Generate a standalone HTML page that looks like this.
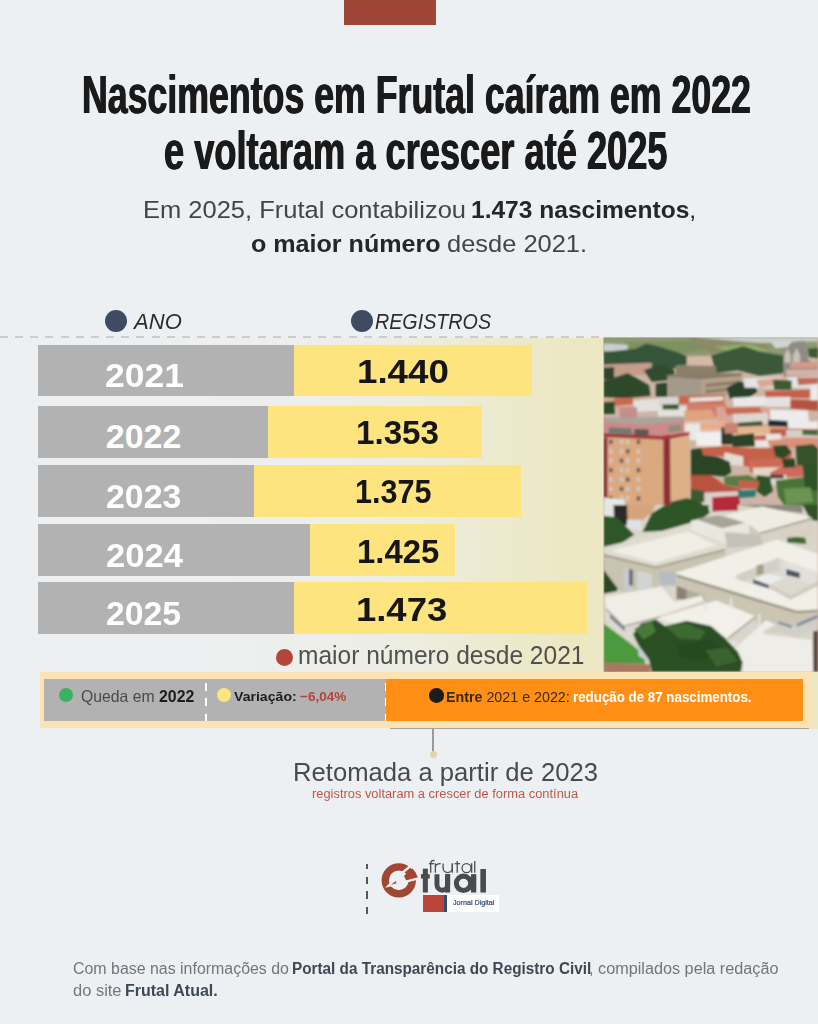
<!DOCTYPE html>
<html lang="pt-BR"><head><meta charset="utf-8"><title>Nascimentos em Frutal</title>
<style>
html,body{margin:0;padding:0;}
body{background:#edf0f2;font-family:"Liberation Sans",sans-serif;}
#page{position:relative;width:818px;height:1024px;overflow:hidden;background:#edf0f2;}
.t{position:absolute;white-space:nowrap;line-height:1;transform-origin:0 0;display:inline-block;}
.b{position:absolute;}
.dot{position:absolute;border-radius:50%;}

</style></head>
<body>
<div id="page">
<!-- top accent -->
<div class="b" style="left:344.3px;top:0;width:91.7px;height:25.2px;background:#9d4636"></div>
<!-- gradient panel -->
<div class="b" style="left:0;top:337.5px;width:818px;height:391px;background:linear-gradient(90deg,rgba(236,232,196,0) 0px,rgba(236,232,196,0) 150px,rgba(236,232,196,.12) 300px,rgba(236,232,196,.4) 420px,rgba(236,232,196,.78) 500px,#ece8c4 565px,#ece8c4 818px)"></div>
<!-- dashed line -->
<div class="b" style="left:0;top:335.9px;width:603.5px;height:1.8px;background:repeating-linear-gradient(90deg,#cbcdcd 0,#cbcdcd 8px,transparent 8px,transparent 15.155px)"></div>
<!-- header dots -->
<div class="dot" style="left:104.5px;top:309.9px;width:22px;height:22px;background:#3e4b62"></div>
<div class="dot" style="left:351.3px;top:309.9px;width:22px;height:22px;background:#3e4b62"></div>
<!-- bars -->
<div class="b" style="left:37.8px;top:344.7px;width:494.5px;height:51.7px;background:#fde47f"></div>
<div class="b" style="left:37.8px;top:344.7px;width:256.5px;height:51.7px;background:#b2b2b2"></div>
<div class="b" style="left:37.8px;top:405.9px;width:444.2px;height:51.7px;background:#fde47f"></div>
<div class="b" style="left:37.8px;top:405.9px;width:230.5px;height:51.7px;background:#b2b2b2"></div>
<div class="b" style="left:37.8px;top:465.3px;width:483.5px;height:51.7px;background:#fde47f"></div>
<div class="b" style="left:37.8px;top:465.3px;width:216.5px;height:51.7px;background:#b2b2b2"></div>
<div class="b" style="left:37.8px;top:524.4px;width:417.5px;height:51.7px;background:#fde47f"></div>
<div class="b" style="left:37.8px;top:524.4px;width:272.2px;height:51.7px;background:#b2b2b2"></div>
<div class="b" style="left:37.8px;top:582.3px;width:549.2px;height:51.7px;background:#fde47f"></div>
<div class="b" style="left:37.8px;top:582.3px;width:256.5px;height:51.7px;background:#b2b2b2"></div>
<!-- red dot -->
<div class="dot" style="left:275.7px;top:648.5px;width:17.6px;height:17.6px;background:#b5443b"></div>
<!-- PHOTO -->
<svg class="b" style="left:598px;top:330px" width="220" height="350" viewBox="0 0 818 1301.4" preserveAspectRatio="none">
<defs>
<clipPath id="pc"><rect x="20.8" y="27.9" width="800" height="1243"/></clipPath>
<filter id="soft" x="-5%" y="-5%" width="110%" height="110%"><feGaussianBlur stdDeviation="4"/></filter>
<pattern id="win" x="36" y="410" width="44" height="47" patternUnits="userSpaceOnUse"><rect x="8" y="6" width="14" height="13" fill="#9a8468"/></pattern>
</defs>
<g clip-path="url(#pc)">
<rect x="0" y="0" width="818" height="1302" fill="#cdb4a6"/>
<g filter="url(#soft)">
<!-- ===== TOP HALF ===== -->
<!-- hazy fields -->
<rect x="0" y="20" width="818" height="80" fill="#8e9873"/>
<polygon points="100,45 350,40 420,70 300,90 110,75" fill="#7f9161"/>
<polygon points="330,30 600,30 640,70 420,85" fill="#8c8a68"/>
<polygon points="430,62 560,52 640,75 520,90" fill="#8fae68"/>
<polygon points="21,50 110,55 112,80 21,78" fill="#c9cfd0"/>
<polygon points="360,27 818,27 818,42 600,48 480,38" fill="#c8cdc6"/>
<polygon points="640,42 720,38 730,60 660,68" fill="#d2d6d4"/>
<!-- tree band -->
<polygon points="21,82 140,70 180,50 230,62 300,85 335,100 330,128 260,150 180,135 90,140 21,130" fill="#36543a"/>
<polygon points="420,95 470,80 540,60 600,80 690,95 690,160 600,170 520,150 440,160" fill="#3a5838"/>
<polygon points="780,70 818,66 818,105 785,100" fill="#3a5a30"/>
<!-- town mix rows -->
<polygon points="21,128 200,122 200,165 21,175" fill="#c59b8a"/>
<polygon points="330,98 420,96 425,128 330,130" fill="#d5b8a5"/>
<polygon points="290,130 440,135 440,165 290,165" fill="#8c7f6a"/>
<polygon points="21,140 60,138 60,185 21,185" fill="#2f452b"/>
<polygon points="21,190 110,160 190,205 195,245 100,255 21,250" fill="#2f4a2c"/>
<polygon points="170,150 230,128 285,150 280,185 200,192" fill="#314c2e"/>
<polygon points="215,200 258,195 258,250 215,248" fill="#2d4529"/>
<!-- grey building -->
<polygon points="258,170 385,180 390,250 262,258" fill="#a49a8b"/>
<polygon points="385,180 535,166 538,238 390,250" fill="#b3a28b"/>
<polygon points="258,166 385,160 535,160 535,170 385,183 258,174" fill="#8a7c6a"/>
<polygon points="400,200 530,188 530,200 400,213" fill="#8d7c68"/>
<polygon points="400,222 530,210 530,222 400,236" fill="#8d7c68"/>
<!-- tree right of grey building -->
<polygon points="478,215 520,192 580,195 592,230 560,252 490,255" fill="#28412a"/>
<!-- church -->
<polygon points="690,95 705,62 720,45 770,40 778,100 790,120 818,120 818,178 690,178" fill="#8f8b86"/>
<polygon points="693,95 705,68 717,95 717,122 693,122" fill="#c9c0b6"/>
<polygon points="725,95 738,66 752,95 752,122 725,122" fill="#c9c0b6"/>
<polygon points="715,122 818,118 818,140 715,142" fill="#d59a88"/>
<polygon points="700,148 818,146 818,168 700,170" fill="#d8b1a6"/>
<!-- right whites/roofs -->
<polygon points="540,180 818,170 818,215 545,215" fill="#e4e4e4"/>
<polygon points="590,186 700,176 720,200 600,214" fill="#d9a893"/>
<polygon points="740,178 818,176 818,200 745,205" fill="#c66852"/>
<polygon points="650,185 720,188 720,222 655,222" fill="#3a5a36"/>
<polygon points="620,228 790,222 790,252 625,252" fill="#c4604b"/>
<polygon points="790,215 818,212 818,262 790,262" fill="#ececec"/>
<polygon points="500,252 620,246 625,282 505,285" fill="#e9e9e9"/>
<polygon points="620,250 715,248 718,285 622,286" fill="#e2e2e0"/>
<polygon points="715,258 818,262 818,300 715,292" fill="#b5533f"/>
<!-- left of centre roofs row -->
<polygon points="21,255 130,252 220,250 220,282 130,300 21,290" fill="#d6a894"/>
<polygon points="60,255 130,252 132,275 62,282" fill="#c9674f"/>
<polygon points="130,262 225,255 228,300 135,305" fill="#e3e1dc"/>
<polygon points="225,250 300,248 300,275 225,278" fill="#d6d6d2"/>
<polygon points="21,268 62,266 62,312 21,312" fill="#2f4a2a"/>
<polygon points="300,245 470,240 470,272 300,276" fill="#c8664e"/>
<polygon points="340,252 465,246 465,262 340,268" fill="#e5e0da"/>
<polygon points="222,280 330,284 332,322 222,322" fill="#e2e2dc"/>
<polygon points="240,278 300,276 300,296 240,296" fill="#3c5a30"/>
<polygon points="330,270 470,272 500,300 420,330 330,325" fill="#d08068"/>
<polygon points="320,300 420,295 440,330 325,340" fill="#e0a37f"/>
<polygon points="440,285 640,285 640,340 445,345" fill="#d9a594"/>
<polygon points="470,290 600,286 610,310 480,316" fill="#c96d55"/>
<polygon points="500,312 630,308 635,345 505,350" fill="#ddd6d0"/>
<!-- white building with dark windows -->
<polygon points="640,296 780,300 785,340 818,338 818,372 640,372" fill="#ececec"/>
<polygon points="633,334 705,338 705,366 633,362" fill="#272c38"/>
<!-- middle band -->
<polygon points="320,340 470,338 520,352 520,395 320,398" fill="#e2c4b2"/>
<polygon points="378,345 470,340 470,368 378,372" fill="#e8ad8c"/>
<polygon points="520,355 700,360 705,392 520,392" fill="#e5b58f"/>
<polygon points="640,366 818,368 818,396 640,392" fill="#c25f4b"/>
<polygon points="520,345 610,338 612,356 520,360" fill="#3a5a32"/>
<polygon points="320,350 380,348 380,410 345,410 320,400" fill="#e8e8e6"/>
<polygon points="365,380 458,378 460,432 365,430" fill="#f0f0f0"/>
<polygon points="458,362 500,362 500,425 458,425" fill="#2d3a2c"/>
<polygon points="470,345 520,345 520,385 470,385" fill="#c88470"/>
<polygon points="498,392 580,384 588,430 500,436" fill="#2b4527"/>
<polygon points="580,388 680,386 680,436 585,436" fill="#e8e6e4"/>
<polygon points="580,392 625,390 625,410 580,410" fill="#c7624d"/>
<polygon points="630,410 760,400 818,402 818,440 640,440" fill="#d9917b"/>
<polygon points="700,372 818,372 818,400 700,398" fill="#d8d0c4"/>
<polygon points="760,372 818,372 818,392 760,390" fill="#4a6a3c"/>
<!-- red roofs lower -->
<polygon points="385,440 470,430 560,440 650,438 720,456 715,490 640,520 540,505 470,470 385,465" fill="#c5604a"/>
<polygon points="470,455 540,470 540,505 480,500 470,478" fill="#e4dcd4"/>
<polygon points="560,482 680,478 690,520 565,530" fill="#cc6a54"/>
<polygon points="575,512 680,510 680,535 580,540" fill="#e6d6c4"/>
<polygon points="690,505 780,500 780,545 640,548 640,530" fill="#cf6a5c"/>
<polygon points="610,540 700,538 700,575 612,575" fill="#e2ddd4"/>
<polygon points="640,538 690,538 690,552 640,552" fill="#4a4038"/>
<!-- trees lower center -->
<polygon points="345,445 385,440 390,465 440,470 490,490 495,530 470,545 420,540 400,560 345,555" fill="#2b4525"/>
<polygon points="650,430 700,428 720,455 690,480 660,470" fill="#2f4a28"/>
<polygon points="735,430 800,425 818,440 818,520 800,500 740,505" fill="#35522c"/>
<polygon points="685,480 730,478 735,510 690,512" fill="#2a4424"/>
<polygon points="470,545 560,540 600,560 590,590 520,585 470,575" fill="#5b7a44"/>
<polygon points="590,540 640,545 650,600 620,620 590,600" fill="#2f5228"/>
<polygon points="660,560 760,548 818,520 818,651 700,660 670,620" fill="#4a7338"/>
<polygon points="760,500 818,495 818,600 770,590" fill="#2d5226"/>
<polygon points="690,590 790,585 800,640 700,651" fill="#6a9450"/>
<!-- red roofs bottom of top half -->
<polygon points="345,540 420,540 470,575 530,590 540,612 420,615 345,590" fill="#b9533f"/>
<polygon points="520,560 600,562 595,590 525,590" fill="#c4604e"/>
<polygon points="390,605 520,600 525,660 395,660" fill="#d8d2cc"/>
<polygon points="425,622 525,615 528,675 425,675" fill="#b52c3a"/>
<polygon points="520,598 588,594 585,620 522,625" fill="#2e7a74"/>
<polygon points="345,590 395,600 395,640 345,640" fill="#3a5a30"/>
<!-- tan apartment tower -->
<polygon points="25,400 250,405 250,700 160,720 25,690" fill="#dba980"/>
<rect x="41" y="408" width="13" height="16" fill="#6e5c50"/><rect x="81" y="408" width="13" height="16" fill="#cfc8c0"/><rect x="104" y="408" width="13" height="16" fill="#cfc8c0"/><rect x="144" y="408" width="13" height="16" fill="#6e5c50"/><rect x="41" y="443" width="13" height="16" fill="#cfc8c0"/><rect x="81" y="443" width="13" height="16" fill="#cfc8c0"/><rect x="104" y="443" width="13" height="16" fill="#6e5c50"/><rect x="144" y="443" width="13" height="16" fill="#cfc8c0"/><rect x="41" y="478" width="13" height="16" fill="#cfc8c0"/><rect x="81" y="478" width="13" height="16" fill="#6e5c50"/><rect x="104" y="478" width="13" height="16" fill="#cfc8c0"/><rect x="144" y="478" width="13" height="16" fill="#cfc8c0"/><rect x="41" y="513" width="13" height="16" fill="#6e5c50"/><rect x="81" y="513" width="13" height="16" fill="#cfc8c0"/><rect x="104" y="513" width="13" height="16" fill="#cfc8c0"/><rect x="144" y="513" width="13" height="16" fill="#6e5c50"/><rect x="41" y="548" width="13" height="16" fill="#cfc8c0"/><rect x="81" y="548" width="13" height="16" fill="#cfc8c0"/><rect x="104" y="548" width="13" height="16" fill="#6e5c50"/><rect x="144" y="548" width="13" height="16" fill="#cfc8c0"/><rect x="41" y="583" width="13" height="16" fill="#cfc8c0"/><rect x="81" y="583" width="13" height="16" fill="#6e5c50"/><rect x="104" y="583" width="13" height="16" fill="#cfc8c0"/><rect x="144" y="583" width="13" height="16" fill="#cfc8c0"/><rect x="41" y="618" width="13" height="16" fill="#6e5c50"/><rect x="81" y="618" width="13" height="16" fill="#cfc8c0"/><rect x="104" y="618" width="13" height="16" fill="#cfc8c0"/><rect x="144" y="618" width="13" height="16" fill="#6e5c50"/><rect x="41" y="653" width="13" height="16" fill="#cfc8c0"/><rect x="81" y="653" width="13" height="16" fill="#cfc8c0"/><rect x="104" y="653" width="13" height="16" fill="#6e5c50"/><rect x="144" y="653" width="13" height="16" fill="#cfc8c0"/><rect x="41" y="688" width="13" height="16" fill="#cfc8c0"/><rect x="81" y="688" width="13" height="16" fill="#6e5c50"/><rect x="104" y="688" width="13" height="16" fill="#cfc8c0"/><rect x="144" y="688" width="13" height="16" fill="#cfc8c0"/>
<polygon points="265,388 340,382 342,640 268,660" fill="#deb088"/>
<polygon points="243,388 268,386 270,700 244,705" fill="#8e2d35"/>
<polygon points="21,330 180,326 320,326 322,380 250,392 21,396" fill="#cc8a88"/>
<polygon points="21,384 250,394 340,378 340,390 250,408 21,398" fill="#a3383e"/>
<polygon points="21,326 320,322 322,334 180,352 21,340" fill="#a9a59c"/>
<polygon points="80,288 145,286 146,326 80,328" fill="#c28f8e"/>
<polygon points="40,362 125,366 125,388 40,384" fill="#6f7a70"/><polygon points="135,368 188,370 188,392 135,390" fill="#5a5852"/>
<polygon points="262,356 308,352 308,376 262,380" fill="#8a8f80"/>
<polygon points="21,400 35,400 35,690 21,690" fill="#8e2d35"/>
<polygon points="21,623 100,632 100,660 21,660" fill="#e6e8e8"/>
<!-- small tree bottom of tower -->
<polygon points="270,640 330,625 380,640 400,670 270,670" fill="#2f5228"/>
<!-- ===== BOTTOM HALF ===== -->
<polygon points="21,651 818,651 818,1291 21,1291" fill="#d9d5c9"/>
<polygon points="21,651 60,651 62,696 21,699" fill="#e4e6e6"/>
<polygon points="58,651 112,651 112,726 60,721" fill="#2a2a28"/>
<polygon points="108,651 215,651 200,681 160,711 110,713" fill="#d3a57e"/>
<polygon points="108,706 160,706 160,743 108,741" fill="#dfe1e4"/>
<polygon points="165,751 200,681 250,651 410,651 415,681 360,721 250,746" fill="#2d5428"/>
<polygon points="21,691 70,696 110,736 135,761 90,791 21,806" fill="#2f5728"/>
<polygon points="21,861 60,866 88,921 70,971 21,981" fill="#2a4a24"/>
<polygon points="700,766 770,769 775,796 705,791" fill="#3d6a30"/>
<polygon points="760,651 818,651 818,711 790,706" fill="#2d5226"/>
<polygon points="425,651 520,651 520,671 425,675" fill="#b52c3a"/>
<polygon points="520,651 760,651 760,681 600,661" fill="#8a8a80"/>
<polygon points="470,689 610,656 795,696 600,753 560,721" fill="#efece3"/>
<polygon points="600,753 795,696 798,776 740,769 600,786" fill="#d7d2c3"/>
<polygon points="560,721 600,753 600,786 560,776" fill="#cfcbbd"/>
<polygon points="21,811 345,717 478,796 472,813 215,879 21,833" fill="#dfdccf"/>
<polygon points="48,821 335,749 440,799 212,865" fill="#f0eee5"/>
<polygon points="21,833 215,879 472,813 476,856 300,901 225,943 225,956 85,976 21,891" fill="#c9c3b1"/>
<polygon points="95,883 130,891 130,966 95,969" fill="#c9cbcc"/>
<polygon points="145,896 200,906 200,961 145,963" fill="#d2d4d4"/>
<polygon points="225,896 290,901 290,951 230,951" fill="#b8bcc0"/>
<polygon points="115,889 130,891 130,951 115,949" fill="#6a7078"/>
<polygon points="345,709 450,686 562,721 562,773 470,793 345,743" fill="#e9e7e0"/>
<polygon points="362,703 450,689 545,717 462,737" fill="#a8a399"/>
<polygon points="470,751 600,761 620,801 480,811" fill="#c4c2ba"/>
<polygon points="290,903 665,779 818,833 818,1039 738,1043 292,909" fill="#f1efe7"/>
<polygon points="292,907 738,1043 818,1039 818,1103 740,1143 662,1117 600,1091 400,1013 292,1003" fill="#cbc5b2"/>
<polygon points="292,951 330,966 330,1001 292,1001" fill="#8a8276"/>
<polygon points="330,966 395,986 395,1003 330,999" fill="#b0aca0"/>
<polygon points="512,913 672,847 690,856 818,901 818,933 716,987 512,927" fill="#dcd9d0"/>
<polygon points="512,913 672,847 672,891 540,936" fill="#d2cfc4"/>
<polygon points="690,856 818,901 818,951 690,913" fill="#e2e0da"/>
<polygon points="575,926 635,906 692,921 635,947" fill="#eceded"/>
<polygon points="575,926 635,947 635,961 578,943" fill="#5a6068"/>
<polygon points="700,889 750,903 750,923 700,911" fill="#4a5662"/>
<polygon points="590,876 615,869 615,906 590,913" fill="#a89d88"/>
<polygon points="640,947 716,987 818,933 818,951 716,1003 640,961" fill="#cfcbbe"/>
<polygon points="662,1076 740,1106 818,1066 818,1103 740,1143 662,1117" fill="#d2cfc6"/>
<polygon points="668,1081 720,1099 720,1109 668,1091" fill="#7d8fa6"/>
<polygon points="740,1091 818,1059 818,1071 740,1103" fill="#7d8fa6"/>
<polygon points="25,993 235,954 285,1011 388,986 392,1009 232,1063 95,1098 30,1033" fill="#efede5"/>
<polygon points="25,1033 95,1098 232,1063 240,1091 112,1158 32,1091" fill="#dcd9cf"/>
<polygon points="232,1063 392,1009 392,1023 240,1091" fill="#d0cdc2"/>
<polygon points="45,1056 100,1106 100,1121 45,1071" fill="#7a8088"/>
<polygon points="215,1073 440,1006 585,1063 482,1143" fill="#f2f0e9"/>
<polygon points="482,1143 585,1063 590,1103 512,1163" fill="#d8d5ca"/>
<polygon points="140,1116 215,1076 300,1101 190,1151" fill="#e6e4dc"/>
<polygon points="500,1191 625,1079 662,1096 640,1133 795,1153 800,1273 540,1273 540,1251" fill="#efede7"/>
<polygon points="470,1151 520,1159 500,1191 470,1181" fill="#e6e4dc"/>
<polygon points="612,1121 660,1096 665,1131 625,1133" fill="#d4d1c6"/>
<polygon points="800,1121 818,1116 818,1273 800,1273" fill="#5a4a40"/>
<polygon points="21,1091 112,1158 175,1211 175,1241 21,1241" fill="#4c9a3c"/>
<polygon points="21,1236 195,1243 195,1276 21,1276" fill="#a87862"/>
<polygon points="150,1171 215,1196 215,1251 150,1211" fill="#c8ccd0"/>
<polygon points="130,1131 160,1091 215,1076 250,1101 330,1081 420,1101 470,1143 520,1196 538,1236 530,1273 200,1273 190,1226 150,1171" fill="#2b4f24"/>
<polygon points="250,1101 330,1091 400,1121 380,1151 300,1146" fill="#3d6a30"/>
<polygon points="135,1111 200,1081 215,1121 170,1151" fill="#4a7a3a"/>
<polygon points="300,1171 420,1151 470,1191 380,1231 300,1211" fill="#274820"/>
<polygon points="400,1191 480,1181 520,1231 440,1251" fill="#3a6430"/>
<line x1="292" y1="913" x2="738" y2="1049" stroke="#8f897a" stroke-width="7"/>
<line x1="738" y1="1049" x2="818" y2="1045" stroke="#8f897a" stroke-width="6"/>
<line x1="21" y1="837" x2="215" y2="883" stroke="#9a9484" stroke-width="6"/>
<line x1="215" y1="883" x2="472" y2="817" stroke="#9a9484" stroke-width="6"/>
<line x1="600" y1="757" x2="795" y2="701" stroke="#9a9484" stroke-width="5"/>
<line x1="30" y1="1037" x2="95" y2="1102" stroke="#a09a8c" stroke-width="5"/>
<line x1="95" y1="1102" x2="232" y2="1067" stroke="#a09a8c" stroke-width="5"/>
<line x1="485" y1="1146" x2="585" y2="1067" stroke="#a09a8c" stroke-width="5"/>
<line x1="400" y1="1013" x2="400" y2="1046" stroke="#e8e6de" stroke-width="8"/>
<line x1="495" y1="996" x2="495" y2="1036" stroke="#e8e6de" stroke-width="8"/>
<line x1="600" y1="1056" x2="600" y2="1096" stroke="#e8e6de" stroke-width="8"/>
</g>
</g>
</svg>

<!-- bottom strip -->
<div class="b" style="left:39.8px;top:672.4px;width:771px;height:56.1px;background:#fbe3b6"></div>
<div class="b" style="left:389.6px;top:727.6px;width:419px;height:1.6px;background:#a9a49a"></div>
<div class="b" style="left:44.4px;top:679px;width:341.8px;height:42.1px;background:#b2b2b2"></div>
<div class="b" style="left:386.2px;top:678.7px;width:417px;height:42.5px;background:#ff9015"></div>
<div class="b" style="left:205.2px;top:683.2px;width:1.7px;height:37.4px;background:repeating-linear-gradient(180deg,#fff 0,#fff 8px,transparent 8px,transparent 15.4px)"></div>
<div class="b" style="left:384.8px;top:683.2px;width:1.7px;height:37.4px;background:repeating-linear-gradient(180deg,#fff 0,#fff 8px,transparent 8px,transparent 15.4px)"></div>
<div class="dot" style="left:59.2px;top:688.2px;width:14px;height:14px;background:#3bb25f"></div>
<div class="dot" style="left:217px;top:688.2px;width:14px;height:14px;background:#fde47f"></div>
<div class="dot" style="left:429.4px;top:688.1px;width:14.6px;height:14.6px;background:#1c1c1c"></div>
<!-- connector -->
<div class="b" style="left:432.2px;top:728.5px;width:1.6px;height:25px;background:#9a9a96"></div>
<div class="dot" style="left:429.5px;top:751px;width:7px;height:7px;background:#e0d7a8"></div>
<!-- logo -->
<div class="b" style="left:366px;top:864px;width:2px;height:5px;background:#555"></div><div class="b" style="left:366px;top:876.8px;width:2px;height:6.8px;background:#555"></div><div class="b" style="left:366px;top:891px;width:2px;height:8px;background:#555"></div><div class="b" style="left:366px;top:906.7px;width:2px;height:7.8px;background:#555"></div>
<div class="b" style="left:422.9px;top:895px;width:21.1px;height:17.2px;background:#b8443a"></div>
<div class="b" style="left:444px;top:895px;width:3px;height:17.2px;background:#2f4a73"></div>
<div class="b" style="left:447px;top:895px;width:51.8px;height:17.2px;background:#fff"></div>
<!-- logo mark -->
<svg class="b" style="left:378px;top:858px" width="50" height="44" viewBox="0 0 818 720">
  <circle cx="340" cy="365" r="221" fill="none" stroke="#a04632" stroke-width="120"/>
  <polygon points="425,292 565,172 612,235 655,322 462,374" fill="#a04632"/>
  <line x1="398" y1="242" x2="560" y2="108" stroke="#edf0f2" stroke-width="40"/>
  <line x1="456" y1="386" x2="690" y2="326" stroke="#edf0f2" stroke-width="38"/>
  <polygon points="118,488 186,408 228,462" fill="#edf0f2"/>
  <polygon points="213,438 292,376 302,412" fill="#a04632"/>
</svg>
<!-- logo word "tual" -->
<svg class="b" style="left:416px;top:856px" width="90" height="60" viewBox="0 0 818 545">
  <g fill="#4b4b4b">
    <rect x="62" y="115" width="46" height="217"/>
    <rect x="45" y="165" width="80" height="40"/>
    <path d="M168,165 V262 a71,71 0 0 0 142,0 V165 h-45 V262 a26,26 0 0 1 -52,0 V165 Z"/>
    <rect x="265" y="165" width="45" height="167"/>
    <rect x="500" y="165" width="48" height="167"/>
    <rect x="585" y="118" width="51" height="214"/>
  </g>
  <circle cx="432" cy="248" r="65" fill="none" stroke="#4b4b4b" stroke-width="46"/>
</svg>
<!-- logo word "frutal" -->
<svg class="b" style="left:426px;top:856px" width="56" height="22" viewBox="0 0 818 321">
  <g fill="none" stroke="#4d4d4d" stroke-width="19">
    <path d="M125,68 Q68,55 68,115 V245"/>
    <path d="M42,112 H120"/>
    <path d="M137,108 V245"/>
    <path d="M137,160 Q145,108 215,110"/>
    <path d="M250,108 V180 a67,62 0 0 0 134,0 V108"/>
    <path d="M385,108 V245"/>
    <path d="M456,72 V245"/>
    <path d="M418,112 H500"/>
    <circle cx="592" cy="176" r="66"/>
    <path d="M667,106 V245"/>
    <path d="M712,72 V245"/>
  </g>
</svg>

<div class="t" style="left:81.90px;top:67.84px;font-size:54.3px;font-weight:bold;color:#1a1a1a;text-shadow:0.7px 0 0 #1a1a1a,-0.7px 0 0 #1a1a1a;transform:scaleX(0.6577)">Nascimentos em Frutal caíram em 2022</div>
<div class="t" style="left:164.47px;top:123.54px;font-size:54.3px;font-weight:bold;color:#1a1a1a;text-shadow:0.7px 0 0 #1a1a1a,-0.7px 0 0 #1a1a1a;transform:scaleX(0.6672)">e voltaram a crescer até 2025</div>
<div class="t" style="left:142.55px;top:198.54px;font-size:23.7px;color:#444;transform:scaleX(1.0759)">Em 2025, Frutal contabilizou</div>
<div class="t" style="left:470.95px;top:198.54px;font-size:23.7px;color:#262626;transform:scaleX(1.0363)"><b>1.473 nascimentos</b>,</div>
<div class="t" style="left:251.44px;top:232.94px;font-size:23.7px;color:#262626;transform:scaleX(1.0593)"><b>o maior número</b></div>
<div class="t" style="left:447.23px;top:232.94px;font-size:23.7px;color:#444;transform:scaleX(1.0743)">desde 2021.</div>
<div class="t" style="left:133.70px;top:310.68px;font-size:22px;font-style:italic;color:#2c2c2c;transform:scaleX(1.0021)">ANO</div>
<div class="t" style="left:374.83px;top:310.68px;font-size:22px;font-style:italic;color:#2c2c2c;transform:scaleX(0.8957)">REGISTROS</div>
<div class="t" style="left:105.40px;top:358.02px;font-size:34px;font-weight:bold;color:#fff;transform:scaleX(1.0435)">2021</div>
<div class="t" style="left:105.75px;top:419.22px;font-size:34px;font-weight:bold;color:#fff;transform:scaleX(1.0000)">2022</div>
<div class="t" style="left:105.75px;top:478.72px;font-size:34px;font-weight:bold;color:#fff;transform:scaleX(0.9966)">2023</div>
<div class="t" style="left:105.73px;top:538.12px;font-size:34px;font-weight:bold;color:#fff;transform:scaleX(1.0168)">2024</div>
<div class="t" style="left:105.76px;top:595.72px;font-size:34px;font-weight:bold;color:#fff;transform:scaleX(0.9932)">2025</div>
<div class="t" style="left:356.77px;top:354.42px;font-size:34px;font-weight:bold;color:#161616;transform:scaleX(1.0798)">1.440</div>
<div class="t" style="left:355.61px;top:414.92px;font-size:34px;font-weight:bold;color:#161616;transform:scaleX(0.9755)">1.353</div>
<div class="t" style="left:355.38px;top:474.22px;font-size:34px;font-weight:bold;color:#161616;transform:scaleX(0.8988)">1.375</div>
<div class="t" style="left:357.03px;top:534.12px;font-size:34px;font-weight:bold;color:#161616;transform:scaleX(0.9659)">1.425</div>
<div class="t" style="left:355.69px;top:592.02px;font-size:34px;font-weight:bold;color:#161616;transform:scaleX(1.0712)">1.473</div>
<div class="t" style="left:298.02px;top:642.61px;font-size:25.5px;color:#505050;transform:scaleX(0.9622)">maior número desde 2021</div>
<div class="t" style="left:81.08px;top:688.03px;font-size:16.5px;color:#4a4a4a;transform:scaleX(0.9555)">Queda em</div>
<div class="t" style="left:159.12px;top:688.03px;font-size:16.5px;font-weight:bold;color:#1c1c1c;transform:scaleX(0.9634)">2022</div>
<div class="t" style="left:234.14px;top:690.07px;font-size:13.5px;font-weight:bold;color:#1c1c1c;transform:scaleX(1.0444)">Variação:</div>
<div class="t" style="left:299.50px;top:690.07px;font-size:13.5px;font-weight:bold;color:#b5443b;transform:scaleX(1.0033)">−6,04%</div>
<div class="t" style="left:445.98px;top:689.95px;font-size:14px;color:#3a2a10;transform:scaleX(1.0189)"><b>Entre</b> 2021 e 2022:</div>
<div class="t" style="left:573.45px;top:689.95px;font-size:14px;font-weight:bold;color:#fff;transform:scaleX(0.9520)">redução de 87 nascimentos.</div>
<div class="t" style="left:292.97px;top:759.68px;font-size:25.3px;color:#4a4a4a;transform:scaleX(1.0133)">Retomada a partir de 2023</div>
<div class="t" style="left:311.83px;top:787.62px;font-size:12.5px;color:#c0564a;transform:scaleX(1.0297)">registros voltaram a crescer de forma contínua</div>
<div class="t" style="left:73.23px;top:961.19px;font-size:15.6px;color:#70767b;transform:scaleX(1.0210)">Com base nas informações do</div>
<div class="t" style="left:292.42px;top:961.19px;font-size:15.6px;font-weight:bold;color:#3d4856;transform:scaleX(0.9809)">Portal da Transparência do Registro Civil</div>
<div class="t" style="left:589.44px;top:961.19px;font-size:15.6px;color:#70767b;transform:scaleX(1.0406)">, compilados pela redação</div>
<div class="t" style="left:73.21px;top:982.89px;font-size:15.6px;color:#70767b;transform:scaleX(1.0562)">do site</div>
<div class="t" style="left:125.47px;top:982.89px;font-size:15.6px;font-weight:bold;color:#3d4856;transform:scaleX(1.0255)">Frutal Atual.</div>
<div class="t" style="left:452.80px;top:899.84px;font-size:6.8px;color:#34507a;-webkit-text-stroke:0.22px #34507a;transform:scaleX(1.0538)">Jornal Digital</div>
</div>
</body></html>
